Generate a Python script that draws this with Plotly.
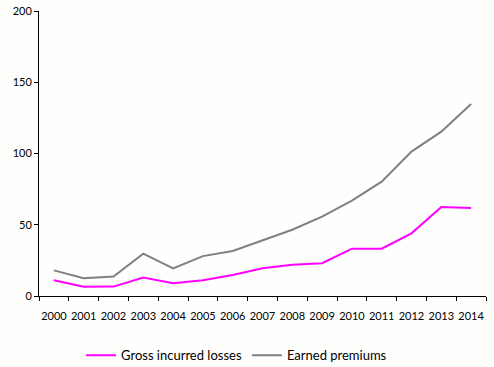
import plotly.graph_objects as go

years = [str(y) for y in range(2000, 2015)]
gross_incurred_losses = [11, 6.5, 6.6, 13, 9, 11, 14.7, 19.5, 22, 23, 33.2, 33.2, 44, 62.5, 61.8]
earned_premiums = [18, 12.4, 13.6, 29.7, 19.4, 28, 31.6, 39, 46.5, 55.7, 67, 80.2, 101.3, 115.3, 134.7]
y_ticks = [0, 50, 100, 150, 200]

font_family = "Century Gothic, URW Gothic, Lato, DejaVu Sans, sans-serif"

fig = go.Figure()
fig.add_trace(go.Scatter(x=years, y=gross_incurred_losses, mode="lines",
                         name="Gross incurred losses",
                         line=dict(color="#FF00FF", width=2)))
fig.add_trace(go.Scatter(x=years, y=earned_premiums, mode="lines",
                         name="Earned premiums",
                         line=dict(color="#808080", width=2)))

fig.update_layout(
    width=494, height=367,
    margin=dict(l=39, r=8, t=11, b=71, autoexpand=False),
    paper_bgcolor="#FEFEFC", plot_bgcolor="#FEFEFC",
    font=dict(family=font_family, size=11, color="#000000"),
    showlegend=True,
    legend=dict(orientation="h", x=0.094, xanchor="left", y=-0.155, yanchor="top",
                font=dict(size=13), bgcolor="rgba(0,0,0,0)", itemwidth=30,
                tracegroupgap=0),
)
fig.update_xaxes(type="category", range=[-0.5, 14.5], showline=True, linecolor="#000000",
                 linewidth=1, ticks="outside", ticklen=4, tickcolor="#000000",
                 tickson="boundaries", showgrid=False, zeroline=False, automargin=False,
                 tickangle=0, ticklabelstandoff=10, tickfont=dict(size=11))
fig.update_yaxes(range=[0, 200], tickvals=y_ticks, showline=True, linecolor="#000000",
                 linewidth=1, ticks="outside", ticklen=4, tickcolor="#000000",
                 showgrid=False, zeroline=False, automargin=False, tickfont=dict(size=11))

fig.write_html(
    "out.html",
    config={"displayModeBar": False},
    post_script="document.body.style.margin='0';document.body.style.background='#FEFEFC';",
)
